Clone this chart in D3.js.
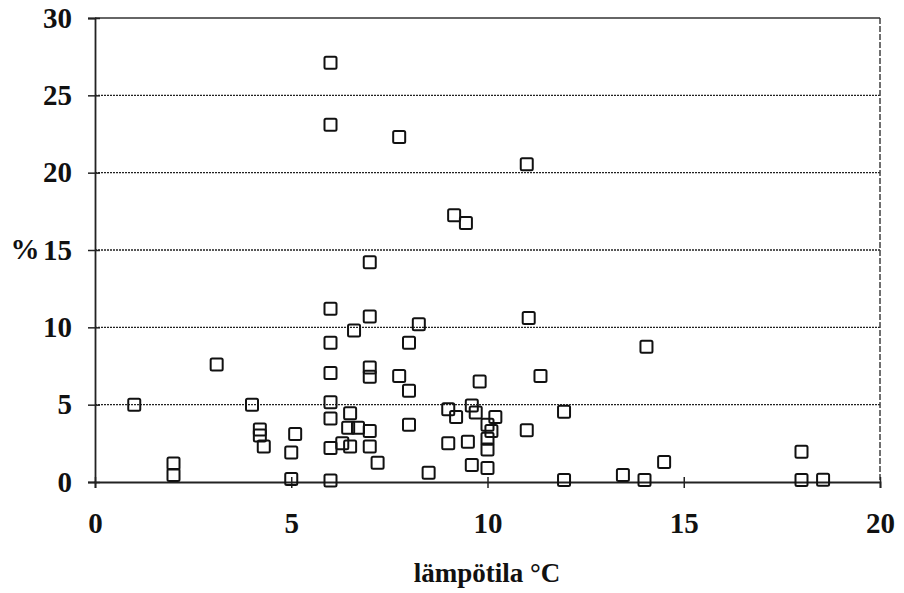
<!DOCTYPE html>
<html>
<head>
<meta charset="utf-8">
<script src="https://cdn.jsdelivr.net/npm/d3@7"></script>
<style>
  body { margin: 0; background: #fff; }
</style>
</head>
<body>
<svg id="chart"></svg>
<script>
const width = 904;
const height = 593;
const serif = '"Liberation Serif", "Times New Roman", Times, serif';

// lämpötila (°C) and % for every measured point
const temps = [
  1.0, 2.0, 2.0, 3.1, 4.0, 4.2, 4.2, 4.3, 5.0, 5.1, 5.0,
  6.0, 6.0, 6.0, 6.0, 6.0, 6.0, 6.0, 6.0, 6.0,
  6.3, 6.45, 6.5, 6.5, 6.6, 6.7,
  7.0, 7.0, 7.0, 7.0, 7.0, 7.0, 7.2, 7.75, 7.75,
  8.0, 8.0, 8.0, 8.25, 8.5,
  9.0, 9.0, 9.15, 9.2, 9.45, 9.5, 9.6, 9.6, 9.7, 9.8,
  10.0, 10.0, 10.0, 10.0, 10.1, 10.2,
  11.0, 11.0, 11.05, 11.35, 11.95, 11.95,
  13.45, 14.0, 14.05, 14.5, 18.0, 18.0, 18.55
];
const percents = [
  5.0, 1.2, 0.45, 7.6, 5.0, 3.4, 3.0, 2.3, 1.9, 3.1, 0.2,
  27.1, 23.1, 11.2, 9.0, 7.05, 5.15, 4.1, 2.2, 0.1,
  2.5, 3.5, 4.45, 2.3, 9.8, 3.5,
  14.2, 10.7, 7.4, 6.8, 3.3, 2.3, 1.25, 22.3, 6.85,
  9.0, 5.9, 3.7, 10.2, 0.6,
  4.7, 2.5, 17.25, 4.2, 16.75, 2.6, 4.95, 1.1, 4.5, 6.5,
  3.7, 2.8, 2.1, 0.9, 3.3, 4.2,
  20.55, 3.35, 10.6, 6.85, 4.55, 0.13,
  0.45, 0.13, 8.75, 1.3, 1.95, 0.13, 0.15
];

const xTicks = [0, 5, 10, 15, 20];
const yTicks = [0, 5, 10, 15, 20, 25, 30];
const gridValues = [5, 10, 15, 20, 25];

const points = temps.map((t, i) => ({ t, p: percents[i] }));

const plotLeft = 95, plotRight = 880, plotTop = 18, plotBottom = 482;

const svg = d3.select('#chart')
  .attr('width', width)
  .attr('height', height);

const x = d3.scaleLinear().domain([0, 20]).range([plotLeft, plotRight]);
const y = d3.scaleLinear().domain([0, 30]).range([plotBottom, plotTop]);

// dotted gridlines
svg.append('g')
  .selectAll('line')
  .data(gridValues)
  .join('line')
  .attr('x1', plotLeft)
  .attr('x2', plotRight)
  .attr('y1', d => y(d))
  .attr('y2', d => y(d))
  .attr('stroke', '#222')
  .attr('stroke-width', 1.4)
  .attr('stroke-dasharray', '2,1');

// top border and right border
svg.append('line')
  .attr('x1', plotLeft).attr('x2', plotRight)
  .attr('y1', y(30)).attr('y2', y(30))
  .attr('stroke', '#333').attr('stroke-width', 1.6);
svg.append('line')
  .attr('x1', plotRight).attr('x2', plotRight)
  .attr('y1', y(30)).attr('y2', y(0))
  .attr('stroke', '#333').attr('stroke-width', 1.4)
  .attr('stroke-dasharray', '6,2');

// left axis
const yAxis = svg.append('g')
  .attr('transform', `translate(${plotLeft},0)`)
  .call(d3.axisLeft(y).tickValues(yTicks).tickSize(7).tickPadding(16));
yAxis.select('.domain').attr('stroke', '#222').attr('stroke-width', 1.8);
yAxis.selectAll('.tick line').attr('x1', 5).attr('stroke', '#222').attr('stroke-width', 1.5);
yAxis.selectAll('.tick text')
  .style('font-family', serif).style('font-weight', 'bold')
  .style('font-size', '29px').attr('fill', '#111');

svg.append('text')
  .attr('x', 25)
  .attr('y', y(15))
  .attr('dy', '0.32em')
  .attr('text-anchor', 'middle')
  .style('font-family', serif).style('font-weight', 'bold')
  .style('font-size', '29px')
  .attr('fill', '#111')
  .text('%');

// bottom axis
const xAxis = svg.append('g')
  .attr('transform', `translate(0,${plotBottom})`)
  .call(d3.axisBottom(x).tickValues(xTicks).tickSize(6).tickPadding(24));
xAxis.select('.domain').attr('stroke', '#222').attr('stroke-width', 1.8);
xAxis.selectAll('.tick line').attr('y1', -5).attr('stroke', '#222').attr('stroke-width', 1.5);
xAxis.selectAll('.tick text')
  .style('font-family', serif).style('font-weight', 'bold')
  .style('font-size', '29px').attr('fill', '#111');

svg.append('text')
  .attr('x', 487)
  .attr('y', 582)
  .attr('text-anchor', 'middle')
  .style('font-family', serif).style('font-weight', 'bold')
  .style('font-size', '27px')
  .attr('fill', '#111')
  .text('lämpötila °C');

// hollow square markers
const s = 12;
svg.append('g')
  .selectAll('rect')
  .data(points)
  .join('rect')
  .attr('x', d => x(d.t) - s / 2)
  .attr('y', d => y(d.p) - s / 2)
  .attr('width', s)
  .attr('height', s)
  .attr('rx', 1.5)
  .attr('fill', 'none')
  .attr('stroke', '#111')
  .attr('stroke-width', 2);
</script>
</body>
</html>
